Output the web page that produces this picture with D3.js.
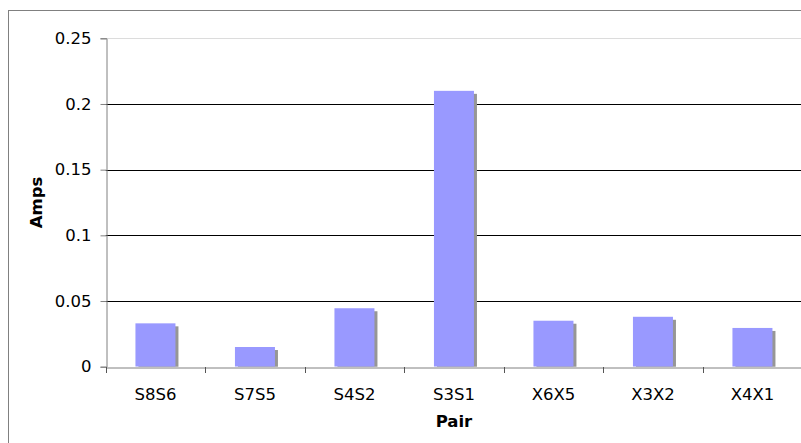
<!DOCTYPE html>
<html><head><meta charset="utf-8">
<script src="https://cdn.jsdelivr.net/npm/d3@7"></script>
<style>html,body{margin:0;padding:0;background:#fff;overflow:hidden}</style>
</head><body>
<svg id="c" width="801" height="443"></svg>
<script>
const categories = ["S8S6","S7S5","S4S2","S3S1","X6X5","X3X2","X4X1"];
const values = [0.033, 0.015, 0.0445, 0.21, 0.035, 0.038, 0.0295];
const yTicks = [0, 0.05, 0.1, 0.15, 0.2, 0.25];
const yTickLabels = ["0","0.05","0.1","0.15","0.2","0.25"];

const svg = d3.select("#c");
const font = "'DejaVu Sans', Verdana, sans-serif";
const L = 105.7, R = 802.2, T = 38.3, B = 366.7;

svg.append("rect").attr("x",8.5).attr("y",10.5).attr("width",820).attr("height",460)
  .attr("fill","#fff").attr("stroke","#808080").attr("stroke-width",1);

const x = d3.scaleBand().domain(categories).range([L,R]).paddingInner(0.598).paddingOuter(0.299);
const xc = d3.scaleBand().domain(categories).range([L,R]).padding(0);
const y = d3.scaleLinear().domain([0,0.25]).range([B,T]);

// gridlines
svg.append("g").selectAll("line").data(yTicks.filter(d=>d>0)).join("line")
  .attr("x1",L).attr("x2",R)
  .attr("y1",d=>Math.round(y(d))+0.5).attr("y2",d=>Math.round(y(d))+0.5)
  .attr("stroke",d=>d===0.25?"#dcdcdc":"#000").attr("stroke-width",1);

// clip
svg.append("clipPath").attr("id","pc").append("rect")
  .attr("x",L).attr("y",T-5).attr("width",R-L+10).attr("height",B-T+5);

const gb = svg.append("g").attr("clip-path","url(#pc)");
gb.selectAll("rect.sh").data(values).join("rect").attr("class","sh")
  .attr("x",(d,i)=>x(categories[i])+3).attr("y",d=>y(d)+3)
  .attr("width",x.bandwidth()).attr("height",d=>B-y(d))
  .attr("fill","#969696");
gb.selectAll("rect.bar").data(values).join("rect").attr("class","bar")
  .attr("x",(d,i)=>x(categories[i])).attr("y",d=>y(d))
  .attr("width",x.bandwidth()).attr("height",d=>B-y(d))
  .attr("fill","#9999FF");

// y axis
const yAxis = d3.axisLeft(y).tickValues(yTicks).tickFormat((d,i)=>yTickLabels[i]).tickSizeOuter(0).tickSize(6).tickPadding(9);
const gy = svg.append("g").attr("transform",`translate(${Math.round(L)+0.5},0)`).call(yAxis);
gy.select(".domain").attr("stroke","#808080");
gy.selectAll(".tick line").attr("stroke","#808080");
gy.selectAll("text").attr("font-family",font).attr("font-size","16.5px").attr("fill","#000");

// x axis
const xAxis = d3.axisBottom(xc).tickSize(0).tickPadding(0).tickSizeOuter(0);
const gx = svg.append("g").attr("transform",`translate(0,${Math.round(B)+0.5})`).call(xAxis);
gx.select(".domain").attr("stroke","#808080");
gx.selectAll(".tick line").remove();
gx.selectAll("text").attr("font-family",font).attr("font-size","16.5px").attr("fill","#000")
  .attr("dy",null).attr("y",32.5);
// category separator ticks
const bounds = categories.map(c=>xc(c)).concat([R]);
svg.append("g").selectAll("line").data(bounds).join("line")
  .attr("x1",d=>Math.round(d)+0.5).attr("x2",d=>Math.round(d)+0.5)
  .attr("y1",Math.round(B)).attr("y2",Math.round(B)+6)
  .attr("stroke","#555");

// axis titles
svg.append("text").attr("x",(L+R)/2).attr("y",426.7).attr("text-anchor","middle")
  .attr("font-family",font).attr("font-size","16.5px").attr("font-weight","bold").text("Pair");
svg.append("text").attr("transform",`translate(41.5,${(T+B)/2}) rotate(-90)`).attr("text-anchor","middle")
  .attr("font-family",font).attr("font-size","16.5px").attr("font-weight","bold").text("Amps");
</script>
</body></html>
